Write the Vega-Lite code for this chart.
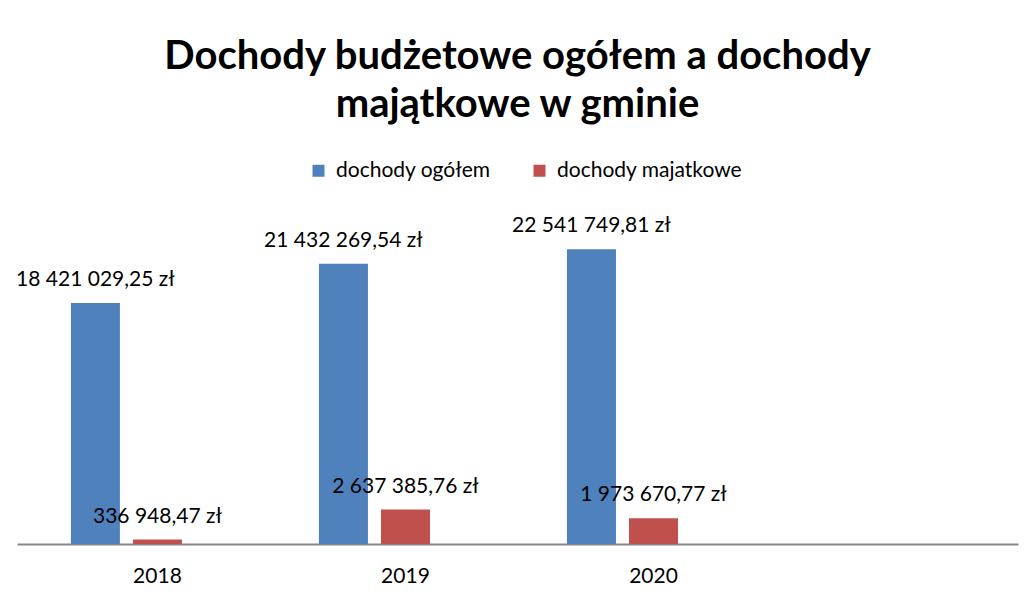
{
  "$schema": "https://vega.github.io/schema/vega-lite/v6.json",
  "autosize": {"type": "none"},
  "width": 1001,
  "height": 327,
  "padding": {"left": 17, "top": 217, "right": 17, "bottom": 54},
  "background": "white",
  "title": {
    "text": ["Dochody budżetowe ogółem a dochody", "majątkowe w gminie"],
    "font": "Lato",
    "fontSize": 40,
    "fontWeight": "bold",
    "color": "black",
    "lineHeight": 48,
    "anchor": "middle",
    "offset": 35
  },
  "data": {
    "values": [
      {"rok": "2018", "seria": "dochody ogółem", "wartosc": 18421029.25},
      {"rok": "2018", "seria": "dochody majatkowe", "wartosc": 336948.47},
      {"rok": "2019", "seria": "dochody ogółem", "wartosc": 21432269.54},
      {"rok": "2019", "seria": "dochody majatkowe", "wartosc": 2637385.76},
      {"rok": "2020", "seria": "dochody ogółem", "wartosc": 22541749.81},
      {"rok": "2020", "seria": "dochody majatkowe", "wartosc": 1973670.77}
    ]
  },
  "encoding": {
    "x": {
      "field": "rok", "type": "nominal",
      "scale": {"domain": ["2018", "2019", "2020", " "], "paddingInner": 0.302, "paddingOuter": 0.169, "align": 0.643},
      "axis": {"title": null, "labelAngle": 0, "ticks": false, "labelFont": "Lato", "labelFontSize": 21, "labelColor": "black", "labelPadding": 21, "domainColor": "#868686", "domainWidth": 2}
    },
    "xOffset": {
      "field": "seria", "type": "nominal",
      "scale": {"domain": ["dochody ogółem", "dochody majatkowe", "pusta"], "paddingInner": 0.21, "paddingOuter": 0}
    },
    "y": {
      "field": "wartosc", "type": "quantitative",
      "scale": {"domain": [0, 25000000], "nice": false},
      "axis": null
    }
  },
  "layer": [
    {
      "mark": {"type": "bar"},
      "encoding": {
        "color": {
          "field": "seria", "type": "nominal",
          "scale": {"domain": ["dochody ogółem", "dochody majatkowe"], "range": ["#4F81BD", "#C0504D"]},
          "legend": {
            "title": null, "orient": "none", "direction": "horizontal",
            "legendX": 291, "legendY": -57,
            "symbolType": "square", "symbolSize": 144, "symbolStrokeWidth": 0,
            "labelFont": "Lato", "labelFontSize": 21, "labelColor": "black", "labelLimit": 500,
            "labelOffset": 7, "columnPadding": 38
          }
        }
      }
    },
    {
      "mark": {"type": "text", "baseline": "middle", "dy": -23, "font": "Lato", "fontSize": 21, "color": "black"},
      "encoding": {
        "text": {"field": "wartosc", "type": "quantitative", "format": "$,.2f"}
      }
    }
  ],
  "config": {
    "view": {"stroke": null},
    "locale": {"number": {"decimal": ",", "thousands": " ", "grouping": [3], "currency": ["", " zł"]}}
  }
}
